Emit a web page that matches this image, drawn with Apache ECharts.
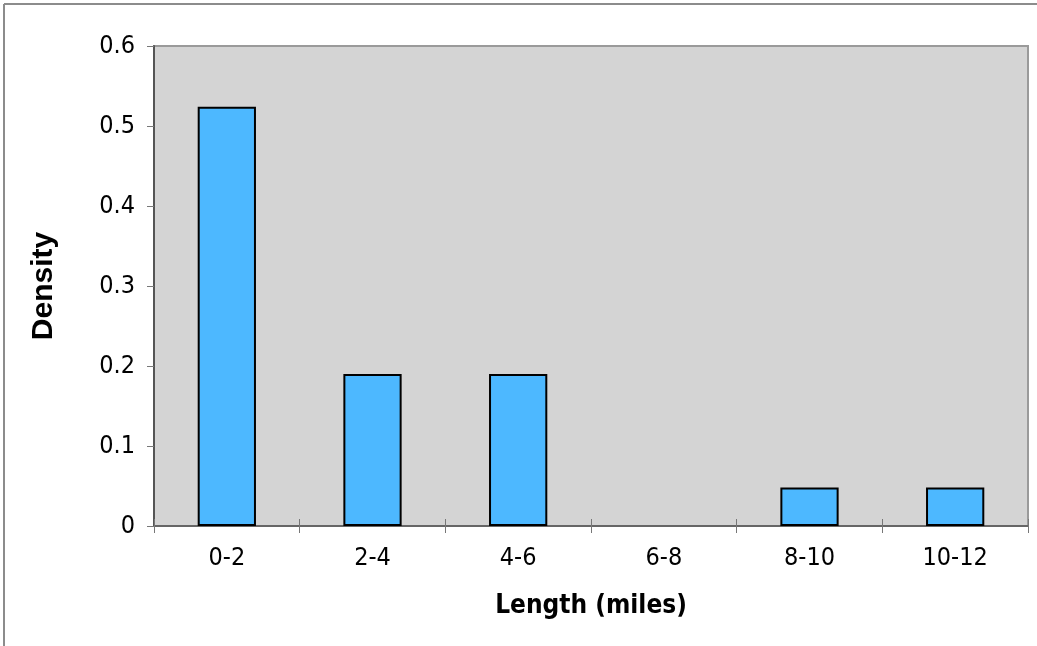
<!DOCTYPE html>
<html>
<head>
<meta charset="utf-8">
<script src="https://cdn.jsdelivr.net/npm/echarts@6/dist/echarts.min.js"></script>
<style>
html,body{margin:0;padding:0;background:#fff;}
#chart{width:1037px;height:646px;}
</style>
</head>
<body>
<div id="chart"></div>
<script>
const categories = ['0-2', '2-4', '4-6', '6-8', '8-10', '10-12'];
const density = [0.524, 0.190, 0.190, 0, 0.048, 0.048];
const yTicks = [0, 0.1, 0.2, 0.3, 0.4, 0.5, 0.6];

const chart = echarts.init(document.getElementById('chart'), null, {renderer: 'canvas'});
const labelFont = 'DejaVu Sans Condensed, DejaVu Sans, sans-serif';
chart.setOption({
  animation: false,
  backgroundColor: '#ffffff',
  grid: {
    left: 154, top: 46, right: 9, bottom: 120,
    show: true, backgroundColor: '#d4d4d4', borderColor: '#9a9a9a', borderWidth: 2
  },
  graphic: [
    {type: 'line', shape: {x1: 4, y1: 4, x2: 1037, y2: 4}, style: {stroke: '#8c8c8c', lineWidth: 2}, silent: true},
    {type: 'line', shape: {x1: 4, y1: 4, x2: 4, y2: 646}, style: {stroke: '#8c8c8c', lineWidth: 2}, silent: true}
  ],
  xAxis: [{
    type: 'category',
    data: categories,
    name: 'Length (miles)',
    nameLocation: 'middle',
    nameGap: 67,
    nameTextStyle: {fontFamily: labelFont, fontWeight: 'bold', fontSize: 26, color: '#000'},
    axisLine: {lineStyle: {color: '#555', width: 1.5}},
    axisTick: {show: true, length: 7, lineStyle: {color: '#777'}},
    axisLabel: {fontFamily: labelFont, fontSize: 25, color: '#000', margin: 20},
    splitLine: {show: false}
  }, {
    type: 'category',
    data: categories,
    position: 'bottom',
    axisLine: {show: false},
    axisTick: {show: true, inside: true, length: 7, lineStyle: {color: '#777'}},
    axisLabel: {show: false},
    splitLine: {show: false}
  }],
  yAxis: {
    type: 'value',
    min: yTicks[0], max: yTicks[yTicks.length - 1], interval: 0.1,
    name: 'Density',
    nameLocation: 'middle',
    nameGap: 95,
    nameTextStyle: {fontFamily: 'Liberation Sans, Arial, sans-serif', fontWeight: 'bold', fontSize: 30, color: '#000'},
    axisLine: {show: true, lineStyle: {color: '#555', width: 2}},
    axisTick: {show: true, length: 7, lineStyle: {color: '#777'}},
    axisLabel: {fontFamily: labelFont, fontSize: 25, color: '#000', margin: 19,
      formatter: function (v) { return String(+v.toFixed(1)); }},
    splitLine: {show: false}
  },
  series: [{
    type: 'bar',
    data: density.map(function (v) {
      return v === 0 ? {value: v, itemStyle: {borderWidth: 0}} : v;
    }),
    barWidth: '40%',
    itemStyle: {color: '#4db8ff', borderColor: '#000', borderWidth: 2}
  }]
});
</script>
</body>
</html>
